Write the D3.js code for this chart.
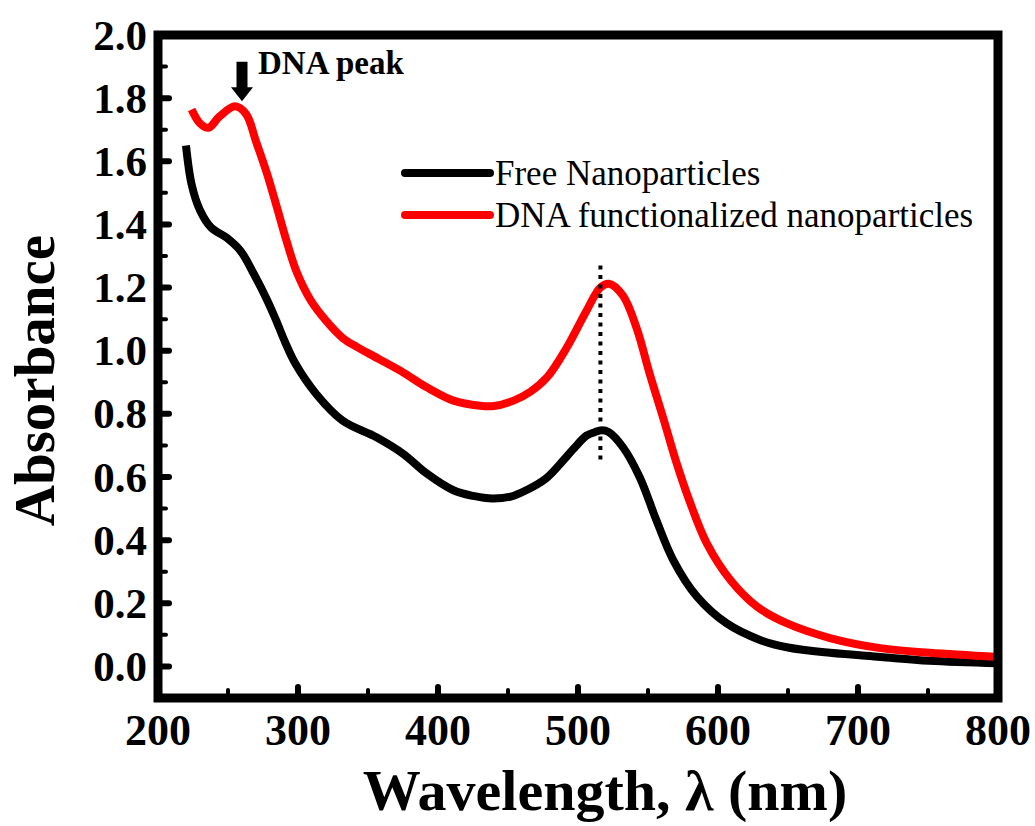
<!DOCTYPE html>
<html>
<head>
<meta charset="utf-8">
<script src="https://cdn.jsdelivr.net/npm/d3@7"></script>
<style>
  body { margin: 0; background: #ffffff; }
  svg { display: block; font-family: "Liberation Serif", "Times New Roman", serif; }
</style>
</head>
<body>
<svg id="chart"></svg>
<script>
// Free nanoparticles (black)
const freeWavelength = [220, 224, 230, 238, 249, 259, 268, 278, 284, 291, 298, 313, 332, 356, 375, 392, 411, 425, 439, 452, 463, 477, 487, 497, 506, 512, 517, 522, 532, 544, 556, 568, 585, 606, 630, 650, 680, 716, 751, 800];
const freeAbsorbance = [1.65, 1.527, 1.445, 1.39, 1.358, 1.316, 1.247, 1.16, 1.1, 1.025, 0.96, 0.863, 0.778, 0.726, 0.674, 0.611, 0.558, 0.54, 0.532, 0.538, 0.558, 0.595, 0.64, 0.69, 0.731, 0.742, 0.748, 0.742, 0.695, 0.6, 0.463, 0.337, 0.221, 0.137, 0.084, 0.06, 0.043, 0.03, 0.018, 0.01];

// DNA functionalized nanoparticles (red)
const dnaWavelength = [224, 230, 236, 244, 255, 263, 270, 278, 285, 292, 299, 309, 320, 332, 342, 351, 373, 392, 411, 430, 440, 454, 466, 478, 492, 506, 516, 522, 532, 542, 551, 561, 570, 580, 592, 609, 628, 649, 680, 716, 751, 800];
const dnaAbsorbance = [1.764, 1.72, 1.706, 1.742, 1.774, 1.749, 1.663, 1.559, 1.453, 1.345, 1.25, 1.16, 1.095, 1.04, 1.012, 0.99, 0.937, 0.884, 0.842, 0.826, 0.825, 0.842, 0.87, 0.916, 1.01, 1.126, 1.2, 1.212, 1.175, 1.07, 0.93, 0.785, 0.65, 0.52, 0.39, 0.273, 0.189, 0.137, 0.09, 0.058, 0.043, 0.03];

const xTicks = [200, 300, 400, 500, 600, 700, 800];
const xMinor = [250, 350, 450, 550, 650, 750];
const yTicks = [0.0, 0.2, 0.4, 0.6, 0.8, 1.0, 1.2, 1.4, 1.6, 1.8, 2.0];
const yMinor = [0.1, 0.3, 0.5, 0.7, 0.9, 1.1, 1.3, 1.5, 1.7, 1.9];
const legendLabels = ['Free Nanoparticles', 'DNA functionalized nanoparticles'];
const colors = ['#000000', '#ff0000'];

// annotations (data units)
const peakLine = { wavelength: 516, from: 0.645, to: 1.27 };
const dnaArrow = { wavelength: 260, top: 1.915, tip: 1.79 };

const W = 1035, H = 826;
const margin = { top: 35, right: 37, bottom: 128, left: 158 };
const width = W - margin.left - margin.right;
const height = H - margin.top - margin.bottom;

const svg = d3.select('#chart')
  .attr('width', W)
  .attr('height', H)
  .append('g')
  .attr('transform', `translate(${margin.left},${margin.top})`);

const x = d3.scaleLinear().domain([200, 800]).range([0, width]);
const y = d3.scaleLinear().domain([-0.1, 2.0]).range([height, 0]);

// inner ticks
svg.selectAll('.ytick')
  .data(yTicks.slice(0, -1))
  .enter().append('line')
  .attr('x1', 0).attr('x2', 11)
  .attr('y1', d => y(d)).attr('y2', d => y(d))
  .attr('stroke', '#000').attr('stroke-width', 6).attr('stroke-linecap', 'round');
svg.selectAll('.yminor')
  .data(yMinor)
  .enter().append('line')
  .attr('x1', 0).attr('x2', 8)
  .attr('y1', d => y(d)).attr('y2', d => y(d))
  .attr('stroke', '#000').attr('stroke-width', 4).attr('stroke-linecap', 'round');

svg.selectAll('.xtick')
  .data(xTicks.slice(1, -1))
  .enter().append('line')
  .attr('x1', d => x(d)).attr('x2', d => x(d))
  .attr('y1', height).attr('y2', height - 11)
  .attr('stroke', '#000').attr('stroke-width', 6).attr('stroke-linecap', 'round');
svg.selectAll('.xminor')
  .data(xMinor)
  .enter().append('line')
  .attr('x1', d => x(d)).attr('x2', d => x(d))
  .attr('y1', height).attr('y2', height - 8)
  .attr('stroke', '#000').attr('stroke-width', 4).attr('stroke-linecap', 'round');

// tick labels
svg.selectAll('.xlabel')
  .data(xTicks)
  .enter().append('text')
  .attr('x', d => x(d))
  .attr('y', height + 47)
  .attr('text-anchor', 'middle')
  .attr('font-size', 44)
  .attr('font-weight', 'bold')
  .text(d => d);

svg.selectAll('.ylabel')
  .data(yTicks)
  .enter().append('text')
  .attr('x', -11)
  .attr('y', d => y(d))
  .attr('dy', '0.34em')
  .attr('text-anchor', 'end')
  .attr('font-size', 43)
  .attr('font-weight', 'bold')
  .text(d => d.toFixed(1));

// axis titles
svg.append('text')
  .attr('x', width / 2 + 27)
  .attr('y', height + 112)
  .attr('text-anchor', 'middle')
  .attr('font-size', 58)
  .attr('font-weight', 'bold')
  .text('Wavelength, λ (nm)');

svg.append('text')
  .attr('transform', `translate(${-104},${height / 2 + 14}) rotate(-90)`)
  .attr('text-anchor', 'middle')
  .attr('font-size', 57)
  .attr('font-weight', 'bold')
  .text('Absorbance');

// curves
const line = d3.line()
  .x(d => x(d[0]))
  .y(d => y(d[1]))
  .curve(d3.curveCatmullRom.alpha(0.5));

const series = [
  d3.zip(freeWavelength, freeAbsorbance),
  d3.zip(dnaWavelength, dnaAbsorbance)
];

svg.selectAll('.curve')
  .data(series)
  .enter().append('path')
  .attr('fill', 'none')
  .attr('stroke', (d, i) => colors[i])
  .attr('stroke-width', 8)
  .attr('stroke-linejoin', 'round')
  .attr('d', line);

// dotted marker through the plasmon peak
svg.append('line')
  .attr('x1', x(peakLine.wavelength)).attr('x2', x(peakLine.wavelength))
  .attr('y1', y(peakLine.to)).attr('y2', y(peakLine.from))
  .attr('stroke', '#000')
  .attr('stroke-width', 4)
  .attr('stroke-dasharray', '4 5.5');

// DNA peak arrow
const ax = x(dnaArrow.wavelength);
const aTop = y(dnaArrow.top), aTip = y(dnaArrow.tip);
svg.append('path')
  .attr('d', `M${ax - 5.5},${aTop} L${ax + 5.5},${aTop} L${ax + 5.5},${aTip - 14} L${ax + 11},${aTip - 14} L${ax},${aTip} L${ax - 11},${aTip - 14} L${ax - 5.5},${aTip - 14} Z`)
  .attr('fill', '#000');

svg.append('text')
  .attr('x', ax + 16)
  .attr('y', aTop + 12)
  .attr('font-size', 33)
  .attr('font-weight', 'bold')
  .text('DNA peak');

// legend
const legend = svg.append('g')
  .attr('transform', `translate(${405 - margin.left},${173 - margin.top})`)
  .selectAll('g')
  .data(legendLabels)
  .enter().append('g')
  .attr('transform', (d, i) => `translate(0,${i * 42})`);

legend.append('line')
  .attr('x1', 0).attr('x2', 85)
  .attr('stroke', (d, i) => colors[i])
  .attr('stroke-width', 8)
  .attr('stroke-linecap', 'round');

legend.append('text')
  .attr('x', 90)
  .attr('dy', '0.33em')
  .attr('font-size', 35)
  .text(d => d);

// frame
svg.append('rect')
  .attr('x', 0).attr('y', 0)
  .attr('width', width).attr('height', height)
  .attr('fill', 'none')
  .attr('stroke', '#000')
  .attr('stroke-width', 9);
</script>
</body>
</html>
